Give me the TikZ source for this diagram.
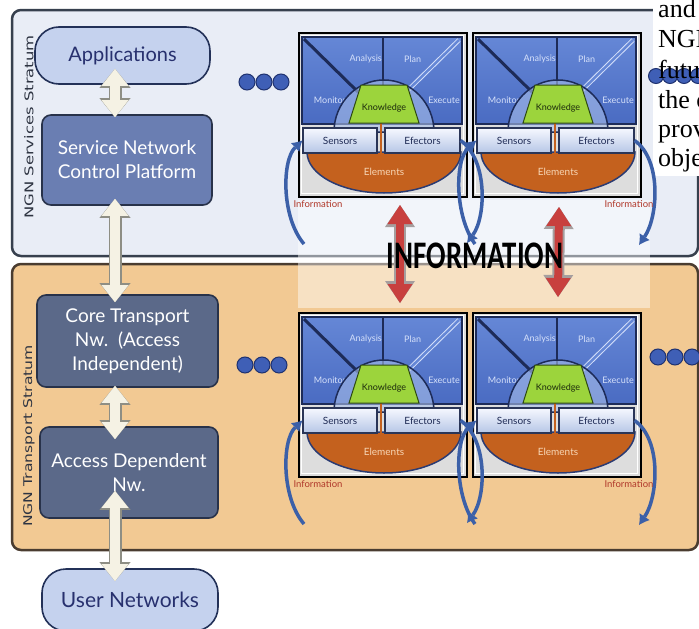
\documentclass[tikz,border=0pt]{standalone}
\usepackage{fontspec}
\setmainfont{Lato}
\newfontfamily\serifface{Liberation Serif}
\newfontfamily\calibface{Carlito}
\newfontfamily\dejaface{DejaVu Sans}
\usetikzlibrary{arrows.meta}
\definecolor{topbg}{HTML}{E9EDF6}
\definecolor{botbg}{HTML}{F2C993}
\definecolor{panelline}{HTML}{37404E}
\definecolor{botline}{HTML}{4A3C30}
\definecolor{appfill}{HTML}{C5D2EE}
\definecolor{appline}{HTML}{233158}
\definecolor{apptext}{HTML}{27306E}
\definecolor{sncpfill}{HTML}{6A7EB2}
\definecolor{corefill}{HTML}{5B6989}
\definecolor{nodeline}{HTML}{28324A}
\definecolor{dotfill}{HTML}{3F5FB6}
\definecolor{dotline}{HTML}{1F3270}
\definecolor{bluetop}{HTML}{6587D6}
\definecolor{bluebot}{HTML}{4A6BC2}
\definecolor{quaddark}{HTML}{1D2B58}
\definecolor{qlabelc}{HTML}{D5E0FA}
\definecolor{domefill}{HTML}{A9BFEA}
\definecolor{knowfill}{HTML}{9CD43C}
\definecolor{knowline}{HTML}{2E4A12}
\definecolor{knowtext}{HTML}{1C2A0C}
\definecolor{setop}{HTML}{F6F8FF}
\definecolor{sebot}{HTML}{B6C6E6}
\definecolor{seline}{HTML}{2A3557}
\definecolor{setext}{HTML}{1F2B55}
\definecolor{elfill}{HTML}{C4611E}
\definecolor{elline}{HTML}{2B3B72}
\definecolor{eltextc}{HTML}{F7D6B5}
\definecolor{blockgray}{HTML}{DDDDDD}
\definecolor{infored}{HTML}{B0382A}
\definecolor{bluearr}{HTML}{3C60A8}
\definecolor{redarr}{HTML}{C8403E}
\definecolor{redout}{HTML}{A59E9E}
\definecolor{warrfill}{HTML}{F5F2E4}
\definecolor{warrline}{HTML}{8E8E84}
\definecolor{stratc}{HTML}{2E3442}
\tikzset{
  panelA/.style={rounded corners=9pt, fill=topbg, draw=panelline, line width=2.5pt},
  panelB/.style={rounded corners=9pt, fill=botbg, draw=botline, line width=2.5pt},
  strat/.style={rotate=90, text=stratc, font=\dejaface\fontsize{12}{12}\selectfont, inner sep=0pt},
  pill/.style={rounded corners=24pt, fill=appfill, draw=appline, line width=1.6pt, text=apptext,
    font=\fontsize{20}{24}\selectfont, inner sep=0pt},
  darkbox/.style={rounded corners=9pt, draw=nodeline, line width=1.6pt, text=white,
    font=\fontsize{19}{24}\selectfont, align=center, inner sep=0pt},
  warrowout/.style={draw=warrline, line width=13pt,
    arrows={Triangle[width=31pt,length=19pt,line width=0pt]-Triangle[width=31pt,length=19pt,line width=0pt]}},
  warrowin/.style={draw=warrfill, line width=10pt,
    arrows={Triangle[width=27pt,length=17pt,line width=0pt]-Triangle[width=27pt,length=17pt,line width=0pt]}},
  dotnode/.style={circle, minimum size=16pt, inner sep=0pt, fill=dotfill, draw=dotline, line width=1pt},
  blockouter/.style={minimum width=168pt, minimum height=164pt, inner sep=0pt, draw=black, line width=2pt, fill=blockgray},
  blockinner/.style={draw=white, line width=0.8pt},
  bluearea/.style={top color=bluetop, bottom color=bluebot, draw=quaddark, line width=1.5pt},
  quadline/.style={draw=quaddark, line width=2pt},
  darkdiag/.style={draw=quaddark, line width=3pt},
  lightdiag/.style={draw=qlabelc, line width=1pt, double=bluetop, double distance=2.5pt},
  qlabel/.style={text=qlabelc, font=\fontsize{9}{9}\selectfont, inner sep=0pt},
  dome/.style={fill=domefill, fill opacity=0.6, draw=quaddark, line width=1.5pt},
  elements/.style={fill=elfill, draw=elline, line width=1.5pt},
  orangeline/.style={draw=elfill, line width=2pt},
  know/.style={fill=knowfill, draw=knowline, line width=1pt},
  ktext/.style={text=knowtext, font=\fontsize{9}{9}\selectfont, inner sep=0pt},
  sebox/.style={minimum width=74pt, minimum height=25pt, inner sep=0pt, draw=seline, line width=1.2pt,
    top color=setop, bottom color=sebot, text=setext, font=\fontsize{10}{10}\selectfont},
  eltext/.style={text=eltextc, font=\fontsize{10}{10}\selectfont, inner sep=0pt},
  bluearrow/.style={draw=bluearr, line width=3.5pt, -{Latex[width=12pt,length=10pt,line width=0pt]}},
  infolabel/.style={text=infored, font=\fontsize{9.5}{9.5}\selectfont, inner sep=0pt},
  redoutline/.style={draw=redout, line width=12pt,
    arrows={Triangle[width=30pt,length=22pt,line width=0pt]-Triangle[width=30pt,length=22pt,line width=0pt]}},
  redinner/.style={draw=redarr, line width=8pt,
    arrows={Triangle[width=25pt,length=19pt,line width=0pt]-Triangle[width=25pt,length=19pt,line width=0pt]}},
  bigtext/.style={text=black, font=\calibface\bfseries\fontsize{39}{39}\selectfont, inner sep=0pt},
  rtext/.style={text=black, font=\serifface\fontsize{26}{26}\selectfont, inner sep=0pt},
}
\newcommand\warrow[4]{%
  \draw[warrowout, shorten <=-#3, shorten >=-#4] (#1) -- (#2);
  \draw[warrowin, shorten <=-#3, shorten >=-#4] (#1) -- (#2);}
\newcommand\redarrow[2]{%
  \draw[redoutline] (#1) -- (#2);
  \draw[redinner] (#1) -- (#2);}
\newcommand\amblock[3]{%
\begin{scope}[shift={(#2,#3)}]
  \node[blockouter, anchor=north west] (#1) at (0,0) {};
  \draw[blockinner] (3,3) rectangle (165,161);
  \draw[bluearea] (4,5) rectangle (164,92);
  \draw[quadline] (85,5) -- (85,92);
  \draw[darkdiag] (6,7) -- (60,60);
  \draw[lightdiag] (161,8) -- (102,66);
  \node[qlabel, anchor=east] (#1an) at (84,27) {Analysis};
  \node[qlabel, anchor=west] (#1pl) at (106,27) {Plan};
  \node[qlabel] (#1mo) at (32,68) {Monitor};
  \node[qlabel] (#1ex) at (146,68) {Execute};
  \draw[dome] (36,100) arc[start angle=180,end angle=360,x radius=50,y radius=52] -- cycle;
  \draw[elements] (9,120) arc[start angle=180,end angle=0,x radius=77,y radius=41] -- cycle;
  \draw[orangeline] (83,88) -- (83,124);
  \draw[know] (51,91) -- (63,53) -- (109,53) -- (121,91) -- cycle;
  \node[ktext] (#1kn) at (86,76) {Knowledge};
  \node[sebox] (#1s) at (42,108.5) {Sensors};
  \node[sebox, minimum width=75pt] (#1e) at (124.5,108.5) {Efectors};
  \node[eltext] (#1el) at (86,140) {Elements};
\end{scope}}
\newcommand\ampair[2]{%
  \amblock{#1l}{298}{#2}
  \amblock{#1r}{472}{#2}
  \coordinate (#1a1) at (304,{#2+212});
  \coordinate (#1a2) at (467,{#2+211});
  \coordinate (#1a3) at (475,{#2+212});
  \coordinate (#1a4) at (639,{#2+213});
  \draw[bluearrow] (#1a1) .. controls (281,{#2+185}) and (282,{#2+128}) .. (#1ls.west);
  \draw[bluearrow] (#1le.east) .. controls (488,{#2+128}) and (486,{#2+185}) .. (#1a2);
  \draw[bluearrow] (#1a3) .. controls (455,{#2+185}) and (454,{#2+128}) .. (#1rs.west);
  \draw[bluearrow] (#1re.east) .. controls (662,{#2+128}) and (658,{#2+185}) .. (#1a4);
  \node[infolabel] (#1il) at (318,{#2+172}) {Information};
  \node[infolabel] (#1ir) at (629,{#2+172}) {Information};
}
\begin{document}
\begin{tikzpicture}[x=1pt,y=-1pt]
\useasboundingbox (0,0) rectangle (699,629);
\clip (0,0) rectangle (699,629);
\fill[white] (0,0) rectangle (699,629);
% panels
\draw[panelA] (12,10) rectangle (698,256);
\draw[panelB] (12,264) rectangle (698,550);
% text area top right
\fill[white] (653,0) rectangle (699,176);
% translucent band
\fill[white, opacity=0.45] (298,200) rectangle (650,308);
% strata labels
\node[strat] (s1) at (29,127) {\scalebox{1.37}[1]{NGN Services Stratum}};
\node[strat] (s2) at (29,436) {\scalebox{1.30}[1]{NGN Transport Stratum}};
% left column
\node[pill, minimum width=175pt, minimum height=57pt] (apps) at (122.5,55.5) {Applications};
\node[darkbox, fill=sncpfill, minimum width=170pt, minimum height=90pt] (sncp) at (127,160) {Service Network\\Control Platform};
\node[darkbox, fill=corefill, minimum width=181pt, minimum height=92pt] (core) at (127.5,341) {Core Transport\\Nw.\ \ (Access\\Independent)};
\node[darkbox, fill=corefill, minimum width=178pt, minimum height=91pt] (access) at (129,472.5) {Access Dependent\\Nw.};
\node[pill, minimum width=176pt, minimum height=62pt, font=\fontsize{21}{24}\selectfont] (user) at (130,600) {User Networks};
\coordinate (ax) at (115,0);
\warrow{apps.south -| ax}{sncp.north -| ax}{16pt}{3pt}
\warrow{sncp.south -| ax}{core.north -| ax}{7pt}{8pt}
\warrow{core.south -| ax}{access.north -| ax}{2pt}{13pt}
\warrow{access.south -| ax}{user.north -| ax}{28pt}{13pt}
% dots
\node[dotnode] (d1a) at (247,82) {};
\node[dotnode] (d1b) at (264,82) {};
\node[dotnode] (d1c) at (281,82) {};
\node[dotnode] (d2a) at (245,365) {};
\node[dotnode] (d2b) at (262,365) {};
\node[dotnode] (d2c) at (279,365) {};
\node[dotnode, minimum size=15pt] (d3a) at (656,76) {};
\node[dotnode, minimum size=15pt] (d3b) at (670,76) {};
\node[dotnode, minimum size=15pt] (d3c) at (684,76) {};
\node[dotnode, minimum size=15pt] (d3d) at (698,76) {};
\node[dotnode] (d4a) at (658,357) {};
\node[dotnode] (d4b) at (675,357) {};
\node[dotnode] (d4c) at (692,357) {};
% autonomic blocks
\ampair{t}{32}
\ampair{b}{312}
% information arrows
\redarrow{[shift={(17,7)}]tl.south}{[shift={(17,-9)}]bl.north}
\redarrow{[shift={(2,9)}]tr.south}{[shift={(1,-15)}]br.north}
\node[bigtext, anchor=base] (info) at (475,268) {\scalebox{0.74}[1]{INFORMATION}};
% right text
\node[rtext, anchor=base west] (r1) at (658,17) {and};
\node[rtext, anchor=base west] (r2) at (658,47) {NGN};
\node[rtext, anchor=base west] (r3) at (658,78) {futu};
\node[rtext, anchor=base west] (r4) at (658,108) {the c};
\node[rtext, anchor=base west] (r5) at (658,137) {prov};
\node[rtext, anchor=base west] (r6) at (658,166) {obje};
\end{tikzpicture}
\end{document}
